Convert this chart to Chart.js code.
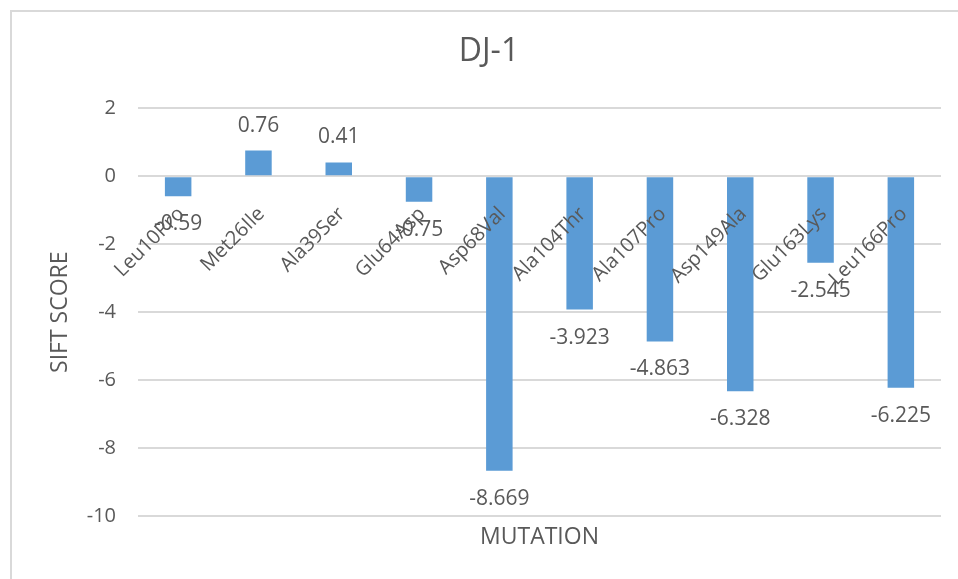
<!DOCTYPE html>
<html>
<head>
<meta charset="utf-8">
<title>DJ-1</title>
<script src="https://cdn.jsdelivr.net/npm/chart.js@4.4.0/dist/chart.umd.min.js"></script>
<style>
  html, body { margin: 0; padding: 0; background: #fff; overflow: hidden; }
  .frame {
    position: absolute; left: 10px; top: 10px; width: 2000px; height: 2000px;
    border-left: 2px solid #d9d9d9; border-top: 2px solid #d9d9d9;
  }
  .chart-box { position: absolute; left: 0; top: 0; width: 958px; height: 579px; }
</style>
</head>
<body>
<div class="frame"></div>
<div class="chart-box"><canvas id="bc" width="958" height="579"></canvas></div>
<script>
// data
const mutations = [
  "Leu10Pro", "Met26Ile", "Ala39Ser", "Glu64Asp", "Asp68Val",
  "Ala104Thr", "Ala107Pro", "Asp149Ala", "Glu163Lys", "Leu166Pro",
];
const siftScores = [-0.59, 0.76, 0.41, -0.75, -8.669, -3.923, -4.863, -6.328, -2.545, -6.225];
const scoreLabels = ["-0.59", "0.76", "0.41", "-0.75", "-8.669", "-3.923", "-4.863", "-6.328", "-2.545", "-6.225"];
const yTicks = [2, 0, -2, -4, -6, -8, -10];

const textColor = "#595959";
Chart.defaults.font.family = "'Open Sans', sans-serif";
Chart.defaults.color = textColor;

// value labels at the outer end of each bar
const barValues = {
  id: "barValues",
  afterDatasetsDraw(chart) {
    const ctx = chart.ctx;
    const meta = chart.getDatasetMeta(0);
    ctx.save();
    ctx.font = "21px 'Open Sans', sans-serif";
    ctx.fillStyle = textColor;
    ctx.textAlign = "center";
    ctx.textBaseline = "middle";
    meta.data.forEach((bar, i) => {
      const y = siftScores[i] >= 0 ? bar.y - 25 : bar.y + 28;
      ctx.fillText(scoreLabels[i], bar.x, y);
    });
    ctx.restore();
  },
};

const config = {
  type: "bar",
  data: {
    labels: mutations,
    datasets: [
      {
        label: "SIFT SCORE",
        data: siftScores,
        backgroundColor: "#5b9bd5",
        categoryPercentage: 1,
        barPercentage: 0.33,
      },
    ],
  },
  options: {
    responsive: false,
    animation: false,
    layout: { padding: { left: 20, right: 0, top: 0, bottom: 0 } },
    plugins: {
      legend: { display: false },
      tooltip: { enabled: false },
      title: {
        display: true,
        text: "DJ-1",
        color: textColor,
        font: { size: 32, weight: "normal" },
        padding: { top: 33, bottom: 37 },
      },
    },
    scales: {
      x: {
        type: "category",
        position: { y: 0 },
        offset: true,
        grid: { display: false },
        border: { display: false },
        ticks: {
          z: 1, // labels sit on top of the bars
          autoSkip: false,
          minRotation: 45,
          maxRotation: 45,
          padding: 18,
          labelOffset: 3,
          color: textColor,
          font: { size: 20 },
        },
      },
      x2: {
        type: "category",
        labels: mutations,
        position: "bottom",
        offset: true,
        grid: { display: false },
        border: { display: false },
        ticks: { display: false },
        title: {
          display: true,
          text: "MUTATION",
          color: textColor,
          font: { size: 23 },
          padding: { top: 0, bottom: 28 },
        },
        afterFit: (scale) => { scale.height = 63; },
      },
      y: {
        min: -10,
        max: 2,
        afterBuildTicks: (scale) => { scale.ticks = yTicks.map((v) => ({ value: v })); },
        grid: { color: "#d9d9d9", lineWidth: 2, drawTicks: false },
        border: { display: false },
        ticks: { padding: 22, color: textColor, font: { size: 20 } },
        title: {
          display: true,
          text: "SIFT SCORE",
          color: textColor,
          font: { size: 23 },
          padding: { top: 27, bottom: 0 },
        },
        afterFit: (scale) => { scale.width = 118; },
      },
      // empty right-hand strip so the plot stops short of the frame edge
      yPad: {
        type: "linear",
        position: "right",
        grid: { display: false },
        border: { display: false },
        ticks: { display: false },
        afterFit: (scale) => { scale.width = 17; },
      },
    },
  },
  plugins: [barValues],
};

new Chart(document.getElementById("bc"), config);
</script>
</body>
</html>
